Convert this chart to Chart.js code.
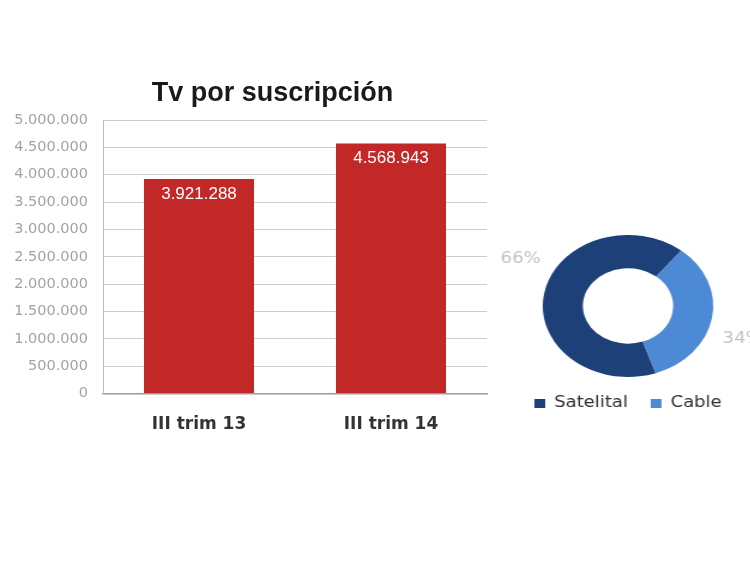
<!DOCTYPE html>
<html>
<head>
<meta charset="utf-8">
<script src="https://cdn.jsdelivr.net/npm/chart.js@4"></script>
<style>
    html, body { margin: 0; padding: 0; background: #fff; }
    body { width: 750px; height: 562px; position: relative; overflow: hidden; }
    #barBox { position: absolute; left: 0; top: 70px; width: 545px; height: 396px; }
    #pieBox { position: absolute; left: 517.5px; top: 225px; width: 220px; height: 196px;
              transform: scaleX(1.2); transform-origin: 50% 50%; }
</style>
</head>
<body>
<div id="barBox"><canvas id="barChart"></canvas></div>
<div id="pieBox"><canvas id="pieChart"></canvas></div>
<script>
// Bar chart data
const periods = ['III trim 13', 'III trim 14'];
const subscribers = [3921288, 4568943];
const yTicks = [0, 500000, 1000000, 1500000, 2000000, 2500000, 3000000, 3500000, 4000000, 4500000, 5000000];

// Doughnut data
const techLabels = ['Satelital', 'Cable'];
const techShare = [66, 34];

function fmt(n) {
    return String(n).replace(/\B(?=(\d{3})+(?!\d))/g, '.');
}

// white value labels inside the top of each bar
const barValueLabels = {
    id: 'barValueLabels',
    afterDatasetsDraw(chart) {
        const ctx = chart.ctx;
        const meta = chart.getDatasetMeta(0);
        ctx.save();
        ctx.fillStyle = '#ffffff';
        ctx.font = '17px "Liberation Sans", Arial, sans-serif';
        ctx.textAlign = 'center';
        ctx.textBaseline = 'middle';
        meta.data.forEach((bar, i) => {
            ctx.fillText(fmt(chart.data.datasets[0].data[i]), bar.x, bar.y + 15);
        });
        ctx.restore();
    }
};

// percentage labels outside the ring
const ringLabels = {
    id: 'ringLabels',
    afterDatasetsDraw(chart) {
        const ctx = chart.ctx;
        const meta = chart.getDatasetMeta(0);
        ctx.save();
        ctx.fillStyle = '#c2c2c2';
        ctx.font = '15px "DejaVu Sans", sans-serif';
        ctx.textAlign = 'center';
        ctx.textBaseline = 'middle';
        meta.data.forEach((arc, i) => {
            const a = arc.startAngle + 0.575 * (arc.endAngle - arc.startAngle);
            const r = arc.outerRadius + 30;
            ctx.fillText(chart.data.datasets[0].data[i] + '%', arc.x + Math.cos(a) * r, arc.y + Math.sin(a) * r);
        });
        ctx.restore();
    }
};

new Chart(document.getElementById('barChart'), {
    type: 'bar',
    data: {
        labels: periods,
        datasets: [{
            data: subscribers,
            backgroundColor: '#c32828',
            barPercentage: 0.573,
            categoryPercentage: 1
        }]
    },
    plugins: [barValueLabels],
    options: {
        responsive: true,
        maintainAspectRatio: false,
        animation: false,
        layout: { padding: { top: 7, right: 0, bottom: 18, left: 0 } },
        plugins: {
            legend: { display: false },
            tooltip: { enabled: false },
            title: {
                display: true,
                text: 'Tv por suscripción',
                color: '#1a1a1a',
                font: { family: '"Liberation Sans", Arial, sans-serif', size: 27, weight: 'bold', lineHeight: 1.2 },
                padding: { top: 0, bottom: 10.6 }
            }
        },
        scales: {
            x: {
                grid: { display: false },
                border: { display: true, color: '#9a9a9a', width: 1.5 },
                ticks: {
                    color: '#333333',
                    padding: 13,
                    font: { family: '"DejaVu Sans", sans-serif', size: 17, weight: '600', lineHeight: 1.2 }
                }
            },
            y: {
                min: 0,
                max: 5000000,
                afterFit(scale) { scale.width = 103; },
                afterBuildTicks(scale) { scale.ticks = yTicks.map(v => ({ value: v })); },
                grid: { color: '#cccccc', lineWidth: 1, drawTicks: false },
                border: { display: true, color: '#bdbdbd' },
                ticks: {
                    color: '#a3a3a3',
                    padding: 15,
                    font: { family: '"DejaVu Sans", sans-serif', size: 14.5 },
                    callback: v => fmt(v)
                }
            },
            // empty right-hand strip so the title centres over the whole canvas
            spacer: {
                type: 'linear',
                position: 'right',
                afterFit(scale) { scale.width = 58; },
                grid: { display: false },
                border: { display: false },
                ticks: { display: false }
            }
        }
    }
});

new Chart(document.getElementById('pieChart'), {
    type: 'doughnut',
    data: {
        labels: techLabels,
        datasets: [{
            data: techShare,
            backgroundColor: ['#1e4079', '#4d8ad6'],
            borderWidth: 0
        }]
    },
    plugins: [ringLabels],
    options: {
        responsive: true,
        maintainAspectRatio: false,
        animation: false,
        rotation: 161,
        cutout: '53%',
        layout: { padding: { top: 10, right: 0, bottom: 0, left: 0 } },
        plugins: {
            tooltip: { enabled: false },
            legend: {
                position: 'bottom',
                labels: {
                    color: '#2e2e2e',
                    boxWidth: 9,
                    boxHeight: 9,
                    padding: 19,
                    font: { family: '"DejaVu Sans", sans-serif', size: 15 }
                }
            }
        }
    }
});
</script>
</body>
</html>
